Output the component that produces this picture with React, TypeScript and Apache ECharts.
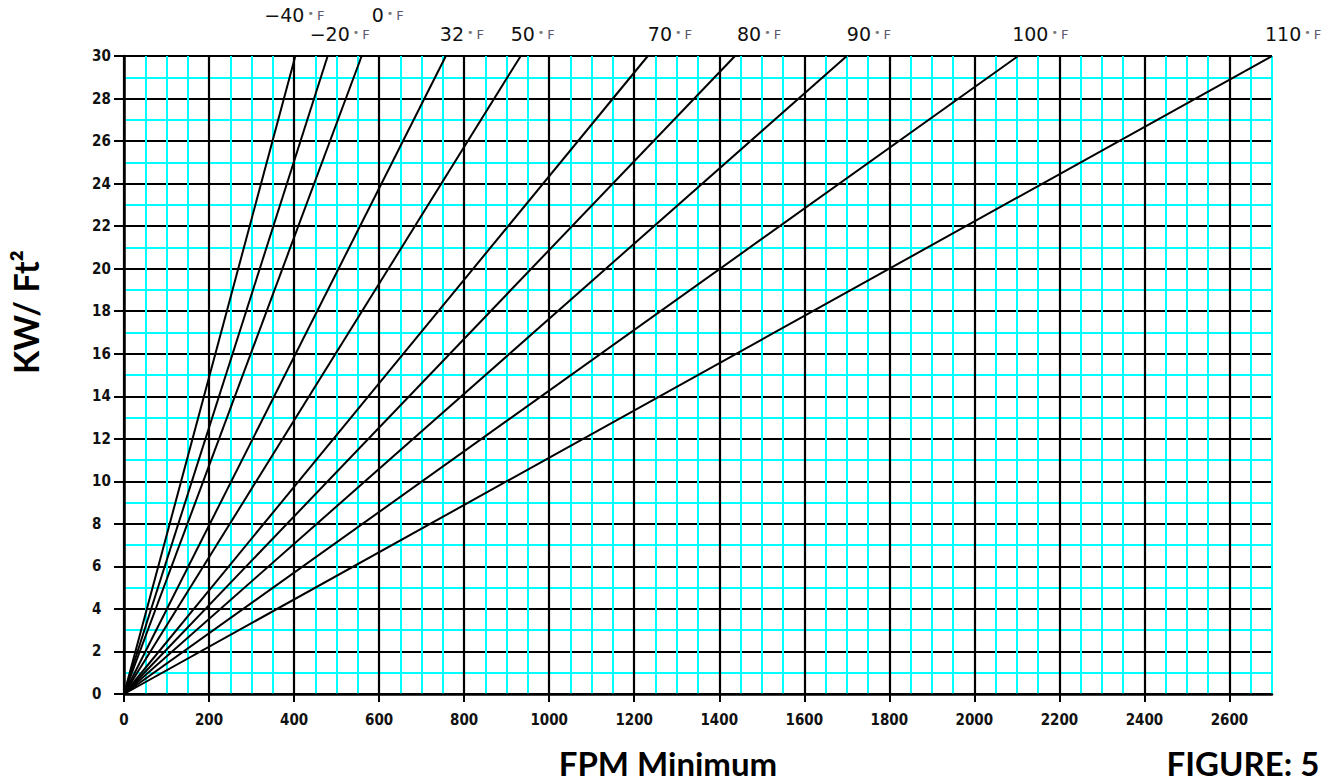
import React, { useEffect, useRef } from "react";
import * as echarts from "echarts";

// Temperature curves: label and FPM reached at the top of the chart (30 KW/Ft²)
const tempLabels = ["−40", "−20", "0", "32", "50", "70", "80", "90", "100", "110"];
const fpmAtTop = [403, 479, 559, 757, 933, 1232, 1437, 1700, 2103, 2700];
const kwTop = 30;

// Axis ticks
const xTickValues = [0, 200, 400, 600, 800, 1000, 1200, 1400, 1600, 1800, 2000, 2200, 2400, 2600];
const yTickValues = [0, 2, 4, 6, 8, 10, 12, 14, 16, 18, 20, 22, 24, 26, 28, 30];
const xMax = 2700;
const yMax = 30;

// Label placement styles (pixel nudges relative to each line's top end)
const labelDx = [-31, -18, 10, -6, -10, 0, 2, 0, -6, -7];
const labelRow = [0, 1, 0, 1, 1, 1, 1, 1, 1, 1];
const rowDy = [-40, -21];

const CYAN = "#00FFFF";
const tickFont = "'DejaVu Sans Condensed', 'DejaVu Sans', sans-serif";
const titleFont = "Lato, 'Open Sans', sans-serif";
const labelFont = "'DejaVu Sans', sans-serif";

export default function App() {
  const ref = useRef<HTMLDivElement>(null);

  useEffect(() => {
    if (!ref.current) return;
    const chart = echarts.init(ref.current, null, { renderer: "svg" });

    const option: any = {
      animation: false,
      backgroundColor: "#ffffff",
      grid: { left: 124, right: 62, top: 56, bottom: 89, outerBoundsMode: "none" },
      xAxis: [
        {
          type: "value",
          min: 0,
          max: xMax,
          interval: 50,
          position: "bottom",
          axisLine: { show: false },
          axisTick: { show: false },
          axisLabel: { show: false },
          splitLine: { show: true, lineStyle: { color: CYAN, width: 2 } },
        },
        {
          type: "value",
          min: 0,
          max: xMax,
          interval: 200,
          position: "bottom",
          axisLine: { show: true, onZero: false, lineStyle: { color: "#000", width: 2.5 } },
          axisTick: {
            show: true,
            length: 8,
            inside: false,
            customValues: xTickValues,
            lineStyle: { color: "#000", width: 2 },
          },
          axisLabel: {
            show: true,
            customValues: xTickValues,
            formatter: (v: number) => String(v),
            margin: 18,
            color: "#111",
            fontFamily: tickFont,
            fontWeight: "bold",
            fontSize: 15,
          },
          splitLine: { show: true, lineStyle: { color: "#000", width: 2.2 } },
        },
      ],
      yAxis: [
        {
          type: "value",
          min: 0,
          max: yMax,
          interval: 1,
          position: "left",
          axisLine: { show: false },
          axisTick: { show: false },
          axisLabel: { show: false },
          splitLine: { show: true, lineStyle: { color: CYAN, width: 2 } },
        },
        {
          type: "value",
          min: 0,
          max: yMax,
          interval: 2,
          position: "left",
          axisLine: { show: true, onZero: false, lineStyle: { color: "#000", width: 2.5 } },
          axisTick: {
            show: true,
            length: 10,
            inside: false,
            customValues: yTickValues,
            lineStyle: { color: "#000", width: 2 },
          },
          axisLabel: {
            show: true,
            customValues: yTickValues,
            formatter: (v: number) => String(v),
            margin: 32,
            align: "left",
            padding: [8, 0, 0, 0],
            color: "#111",
            fontFamily: tickFont,
            fontWeight: "bold",
            fontSize: 15,
          },
          splitLine: { show: true, lineStyle: { color: "#000", width: 2.2 } },
        },
      ],
      series: tempLabels.map((t, i) => ({
        name: t + "°F",
        type: "line",
        xAxisIndex: 1,
        yAxisIndex: 1,
        data: [
          [0, 0],
          [fpmAtTop[i], kwTop],
        ],
        showSymbol: false,
        symbol: "none",
        silent: true,
        lineStyle: { color: "#000", width: 2 },
      })),
    };
    chart.setOption(option);

    const titles: any[] = [
      {
        type: "text",
        id: "ytitle",
        x: 25,
        y: 312,
        rotation: Math.PI / 2,
        style: {
          text: "KW/ Ft²",
          font: `bold 34px ${titleFont}`,
          fill: "#000",
          align: "center",
          verticalAlign: "middle",
        },
      },
      {
        type: "text",
        id: "xtitle",
        x: 668,
        y: 763,
        style: {
          text: "FPM Minimum",
          font: `bold 33px ${titleFont}`,
          fill: "#000",
          align: "center",
          verticalAlign: "middle",
        },
      },
      {
        type: "text",
        id: "fig",
        x: 1243,
        y: 763,
        style: {
          text: "FIGURE: 5",
          font: `bold 33px ${titleFont}`,
          fill: "#000",
          align: "center",
          verticalAlign: "middle",
        },
      },
    ];

    const labels = tempLabels.map((t, i) => {
      const p = chart.convertToPixel({ xAxisIndex: 1, yAxisIndex: 1 } as any, [fpmAtTop[i], kwTop]) as number[];
      return {
        type: "text",
        id: "lbl" + i,
        x: p[0] + labelDx[i],
        y: p[1] + rowDy[labelRow[i]],
        style: {
          text: `{n|${t}}{d|•}{f|F}`,
          align: "left",
          verticalAlign: "middle",
          rich: {
            n: { fontFamily: labelFont, fontSize: 19, lineHeight: 16, fill: "#111", verticalAlign: "bottom" },
            d: { fontFamily: labelFont, fontSize: 11, lineHeight: 16, fill: "#777", padding: [0, 3, 5, 3], verticalAlign: "bottom" },
            f: { fontFamily: labelFont, fontSize: 13, lineHeight: 16, fill: "#5a5870", padding: [0, 0, 2, 0], verticalAlign: "bottom" },
          },
        },
      };
    });

    chart.setOption({ graphic: [...titles, ...labels] });

    return () => {
      chart.dispose();
    };
  }, []);

  return (
    <div
      ref={ref}
      style={{ position: "fixed", left: 0, top: 0, width: 1334, height: 783, background: "#fff" }}
    />
  );
}
